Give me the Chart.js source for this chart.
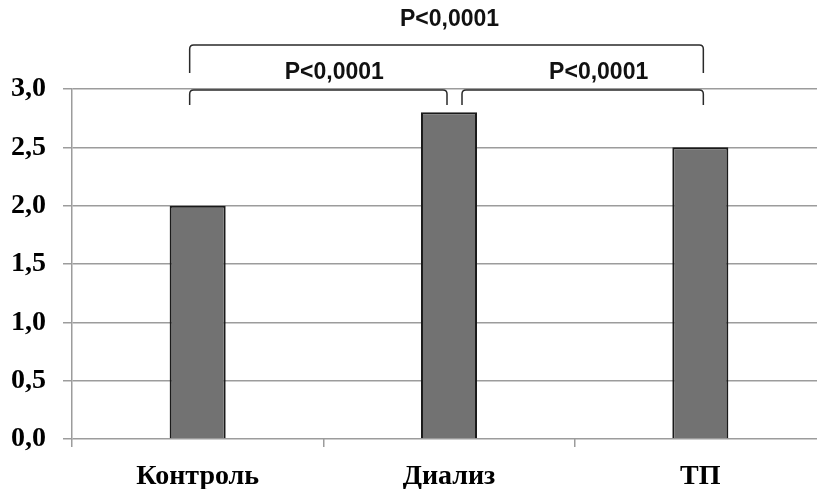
<!DOCTYPE html>
<html>
<head>
<meta charset="utf-8">
<script src="https://cdn.jsdelivr.net/npm/chart.js@4"></script>
<style>
  html, body { margin: 0; padding: 0; background: #ffffff; overflow: hidden; }
  #wrap { position: relative; width: 826px; height: 489px; }
</style>
</head>
<body>
<div id="wrap"><canvas id="c"></canvas></div>
<script>
// ---- data ----
const categories = ['Контроль', 'Диализ', 'ТП'];
const values = [2.0, 2.8, 2.5];
const yTicks = [0, 0.5, 1.0, 1.5, 2.0, 2.5, 3.0];
// significance comparisons (category indices) and their labels
const compareFrom = [0, 1, 0];
const compareTo = [1, 2, 2];
const compareLevel = [0, 0, 1];
const pLabels = ['P<0,0001', 'P<0,0001', 'P<0,0001'];

const bracketPlugin = {
  id: 'brackets',
  afterDraw(chart) {
    const ctx = chart.ctx;
    const xs = chart.scales.x;
    const top = chart.chartArea.top;
    ctx.save();
    ctx.strokeStyle = '#2a2a2a';
    ctx.lineWidth = 1.5;
    ctx.fillStyle = '#111111';
    ctx.font = 'bold 23px "Liberation Sans", Arial, sans-serif';
    ctx.textAlign = 'center';
    ctx.textBaseline = 'middle';
    for (let i = 0; i < compareFrom.length; i++) {
      const lvl = compareLevel[i];
      let xl = xs.getPixelForValue(compareFrom[i]);
      let xr = xs.getPixelForValue(compareTo[i]);
      xl += compareFrom[i] === 0 ? -8 : 13;
      xr += compareTo[i] === categories.length - 1 ? 3 : -2;
      const yBar = lvl === 0 ? top + 1 : top - 44;
      const yLeg = lvl === 0 ? top + 16 : top - 16;
      const r = 4;
      ctx.beginPath();
      ctx.moveTo(xl, yLeg);
      ctx.lineTo(xl, yBar + r);
      ctx.quadraticCurveTo(xl, yBar, xl + r, yBar);
      ctx.lineTo(xr - r, yBar);
      ctx.quadraticCurveTo(xr, yBar, xr, yBar + r);
      ctx.lineTo(xr, yLeg);
      ctx.stroke();
      const tx = (xl + xr) / 2 + (lvl === 0 ? 16 : 3);
      const ty = lvl === 0 ? top - 16 : top - 69;
      ctx.fillText(pLabels[i], tx, ty);
    }
    ctx.restore();
  }
};

new Chart(document.getElementById('c'), {
  type: 'bar',
  data: {
    labels: categories,
    datasets: [{
      data: values,
      backgroundColor: '#727272',
      borderColor: '#1a1a1a',
      borderWidth: 2,
      borderSkipped: 'bottom',
      barPercentage: 0.223,
      categoryPercentage: 1.0
    }]
  },
  options: {
    responsive: true,
    maintainAspectRatio: false,
    animation: false,
    layout: { padding: { top: 89, left: 10, right: 0, bottom: 0 } },
    plugins: { legend: { display: false }, tooltip: { enabled: false } },
    scales: {
      x: {
        offset: true,
        grid: { display: true, drawOnChartArea: false, drawTicks: true, tickLength: 8, color: '#9c9c9c', lineWidth: 1.5 },
        border: { display: false },
        afterFit(scale) { scale.height = 50; },
        ticks: {
          color: '#000000',
          padding: 16,
          maxRotation: 0,
          font: { family: '"Liberation Serif", "Times New Roman", serif', size: 28, weight: 'bold', lineHeight: 1.0 }
        }
      },
      y: {
        min: 0,
        max: 3.0,
        afterBuildTicks(scale) { scale.ticks = yTicks.map(v => ({ value: v })); },
        afterFit(scale) { scale.width = 62; },
        grid: { color: '#9c9c9c', lineWidth: 1.5, tickLength: 9 },
        border: { color: '#9c9c9c', width: 1.5 },
        ticks: {
          color: '#000000',
          padding: 17,
          font: { family: '"Liberation Serif", "Times New Roman", serif', size: 28, weight: 'bold' },
          callback: v => v.toFixed(1).replace('.', ',')
        }
      }
    }
  },
  plugins: [bracketPlugin]
});
</script>
</body>
</html>
